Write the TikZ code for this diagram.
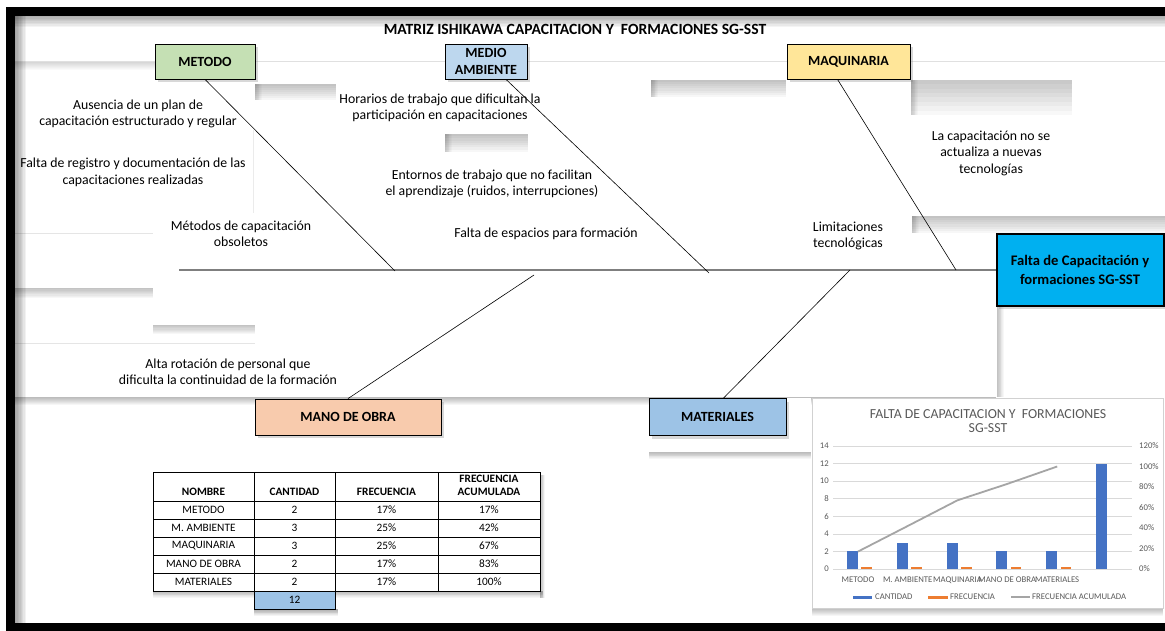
\documentclass[tikz,border=0pt]{standalone}
\usepackage{fontspec}
\setmainfont{Carlito}
\usetikzlibrary{shadows}
\definecolor{cMet}{HTML}{C5E0B4}
\definecolor{cAmb}{HTML}{BDD7EE}
\definecolor{cMaq}{HTML}{FFE699}
\definecolor{cObra}{HTML}{F8CBAD}
\definecolor{cMat}{HTML}{9DC3E6}
\definecolor{cEff}{HTML}{00B0F0}
\definecolor{cBar}{HTML}{4472C4}
\definecolor{cFreq}{HTML}{ED7D31}
\definecolor{cAcc}{HTML}{A5A5A5}
\definecolor{cGrid}{HTML}{D9D9D9}
\definecolor{cTxt}{HTML}{595959}
\definecolor{cSpine}{HTML}{7F7F7F}
% soft shadow darkest at the top edge: x1 y1 x2 y2 opacity-step
\newcommand\softtop[5]{\foreach \k in {1,...,8} \fill[black, opacity=#5] (#1,#2) rectangle (#3,{#2+(#4-#2)*\k/8});}
% soft shadow darkest at the left edge
\newcommand\softleft[5]{\foreach \k in {1,...,8} \fill[black, opacity=#5] (#1,#2) rectangle ({#1+(#3-#1)*\k/8},#4);}
\begin{document}
\begin{tikzpicture}[x=1pt,y=-1pt,
  lbl/.style={font=\fontsize{13.8}{16.5}\selectfont, align=center, inner sep=0pt, text=black},
  catbox/.style={draw=black, line width=0.8pt, font=\bfseries\fontsize{14}{16.5}\selectfont, align=center, inner sep=0pt,
     drop shadow={shadow xshift=2.5pt, shadow yshift=-3pt, opacity=0.3}},
  bone/.style={draw=black, line width=0.6pt},
  tcell/.style={font=\fontsize{11.3}{13}\selectfont, inner sep=0pt, align=center},
  thead/.style={font=\bfseries\fontsize{11.3}{13.5}\selectfont, inner sep=0pt, align=center},
  csm/.style={font=\fontsize{8.7}{10}\selectfont, text=cTxt, inner sep=0pt}
]
\useasboundingbox (0,0) rectangle (1165,631);
\fill[white] (0,0) rectangle (1165,631);

% soft shadows of the sheet's text boxes
\softtop{15}{16}{1165}{27}{0.045}
\draw[black!12] (15,61) -- (1165,61);
\softtop{15}{62}{155}{70}{0.02}
\softtop{255}{84}{336}{100}{0.032}
\softleft{255}{84}{262}{100}{0.025}
\softtop{445}{134}{528}{152}{0.032}
\softleft{445}{134}{452}{152}{0.025}
\softtop{651}{80}{786}{97}{0.032}
\softleft{651}{80}{658}{97}{0.025}
\softtop{911}{80}{1072}{115}{0.028}
\softleft{911}{80}{918}{115}{0.025}
\softtop{912}{216}{1165}{233}{0.032}
\softleft{912}{216}{919}{233}{0.025}
\softtop{15}{288}{153}{298}{0.032}
\softtop{153}{325}{255}{334}{0.032}
\draw[black!10] (15,233) -- (153,233);
\draw[black!10] (15,343) -- (255,343);
\draw[black!8] (253,130) -- (253,213);
\softtop{15}{397}{996}{405}{0.035}
\softleft{997}{306}{1004}{397}{0.03}
\fill[white] (649,398) rectangle (811,452);
\softtop{649}{452}{811}{459}{0.035}
\softleft{15}{16}{26}{623}{0.05}

% black frame
\fill[black] (6,7) rectangle (1165,16);
\fill[black] (6,7) rectangle (15,631);
\fill[black] (6,623) rectangle (1165,631);

% title
\node[font=\bfseries\fontsize{15.6}{17}\selectfont, inner sep=0pt] (title) at (575,29) {MATRIZ ISHIKAWA CAPACITACION Y\ \ FORMACIONES SG-SST};

% category boxes
\node[catbox, fill=cMet, minimum width=100pt, minimum height=35pt] (met) at (205,61.5) {METODO};
\node[catbox, fill=cAmb, minimum width=82pt, minimum height=35pt] (amb) at (486,61.5) {MEDIO\\AMBIENTE};
\node[catbox, fill=cMaq, minimum width=123pt, minimum height=35pt] (maq) at (848.5,61.5) {MAQUINARIA};
\node[catbox, fill=cObra, minimum width=186pt, minimum height=36pt] (obra) at (348,417) {MANO DE OBRA};
\node[catbox, fill=cMat, minimum width=137pt, minimum height=37pt] (mat) at (717.5,417) {MATERIALES};
\node[catbox, fill=cEff, line width=2pt, minimum width=167pt, minimum height=72pt,
      font=\bfseries\fontsize{14.6}{19.5}\selectfont] (eff) at (1080,270) {Falta de Capacitación y\\formaciones SG-SST};

% spine and bones
\coordinate (tail) at (179,270);
\coordinate (jmet) at (395,271);
\coordinate (jamb) at (709,273);
\coordinate (jmaq) at (956,270);
\coordinate (jobra) at (534,275);
\coordinate (jmat) at (850,270);
\draw[cSpine, line width=1.8pt] (tail) -- (eff.west);
\draw[bone] (met.south) -- (jmet);
\draw[bone] ([xshift=20pt]amb.south) -- (jamb);
\draw[bone] ([xshift=-11pt]maq.south) -- (jmaq);
\draw[bone] (obra.north) -- (jobra);
\draw[bone] ([xshift=6pt]mat.north) -- (jmat);

% cause labels
\node[lbl] (c1) at (138,114) {Ausencia de un plan de\\capacitación estructurado y regular};
\node[lbl] (c2) at (133,172.5) {Falta de registro y documentación de las\\capacitaciones realizadas};
\node[lbl] (c3) at (241,234) {Métodos de capacitación\\obsoletos};
\node[lbl] (c4) at (440,108) {Horarios de trabajo que dificultan la\\participación en capacitaciones};
\node[lbl] (c5) at (492,184) {Entornos de trabajo que no facilitan\\el aprendizaje (ruidos, interrupciones)};
\node[lbl] (c6) at (546,234) {Falta de espacios para formación};
\node[lbl] (c7) at (991,153) {La capacitación no se\\actualiza a nuevas\\tecnologías};
\node[lbl] (c8) at (848,236) {Limitaciones\\tecnológicas};
\node[lbl] (c9) at (228,372) {Alta rotación de personal que\\dificulta la continuidad de la formación};

% table
\softtop{153}{591}{543}{598}{0.035}
\softleft{540}{475}{545}{598}{0.035}
\fill[white] (153,472) rectangle (540,591);
\draw[black, line width=0.7pt] (153,472) rectangle (540,591);
\foreach \xx in {254,335,438} \draw[black, line width=0.6pt] (\xx,472) -- (\xx,591);
\foreach \yy in {501,519,537,555,573} \draw[black, line width=0.6pt] (153,\yy) -- (540,\yy);
\softtop{254}{609}{338}{616}{0.045}
\node[draw=black, line width=0.6pt, fill=cMat, minimum width=81pt, minimum height=18pt, tcell] (tot) at (294.5,600) {12};
\node[thead] (h1) at (203.5,492) {NOMBRE};
\node[thead] (h2) at (294.5,492) {CANTIDAD};
\node[thead] (h3) at (386.5,492) {FRECUENCIA};
\node[thead] (h4) at (489,485.5) {FRECUENCIA\\ACUMULADA};
\foreach \n/\a/\b/\c/\d in {0/METODO/2/17/17, 1/M. AMBIENTE/3/25/42, 2/MAQUINARIA/3/25/67, 3/MANO DE OBRA/2/17/83, 4/MATERIALES/2/17/100}{
  \node[tcell] (r\n a) at (203.5,{510+18*\n}) {\a};
  \node[tcell] (r\n b) at (294.5,{510+18*\n}) {\b};
  \node[tcell] (r\n c) at (386.5,{510+18*\n}) {\c\%};
  \node[tcell] (r\n d) at (489,{510+18*\n}) {\d\%};
}

% chart
\softtop{812}{608}{1163}{616}{0.035}
\node[draw=black!18, fill=white, minimum width=351pt, minimum height=210pt, inner sep=0pt] (chart) at (987.5,503) {};
\node[font=\fontsize{13.8}{14.5}\selectfont, text=cTxt, align=center, inner sep=0pt] (ctitle) at (988,421) {FALTA DE CAPACITACION Y\ \ FORMACIONES\\SG-SST};
\foreach \v in {0,2,...,14} {
  \draw[cGrid, line width=0.7pt] (833,{569-\v*8.786}) -- (1132,{569-\v*8.786});
  \node[csm, anchor=east] at (829,{569-\v*8.786}) {\v};
}
\foreach \p in {0,20,...,120} \node[csm, anchor=west] at (1139,{569-\p*1.025}) {\p\%};
\foreach \i/\v/\f in {1/2/0.17,2/3/0.25,3/3/0.25,4/2/0.17,5/2/0.17,6/12/0} {
  \pgfmathsetmacro\cc{833+49.83*(\i-0.5)}
  \fill[cBar] (\cc-11,569) rectangle (\cc,{569-\v*8.786});
  \ifdim \f pt>0pt \fill[cFreq] (\cc+3.5,569) rectangle (\cc+14,{569-max(\f*8.786,1.6)}); \fi
}
\draw[cAcc, line width=1.8pt] (857.9,551.6) -- (907.7,526) -- (957.5,500.3) -- (1007.3,483.9) -- (1057.2,466.5);
\node[csm] (x1) at (858,580) {METODO};
\node[csm] (x2) at (907.7,580) {M. AMBIENTE};
\node[csm] (x3) at (957.5,580) {MAQUINARIA};
\node[csm] (x4) at (1007.3,580) {MANO DE OBRA};
\node[csm] (x5) at (1057.2,580) {MATERIALES};
\fill[cBar] (853,595.5) rectangle (872,598.5);
\node[csm, anchor=west] (l1) at (875,597) {CANTIDAD};
\fill[cFreq] (928,595.5) rectangle (948,598.5);
\node[csm, anchor=west] (l2) at (950,597) {FRECUENCIA};
\draw[cAcc, line width=1.5pt] (1011,597) -- (1030,597);
\node[csm, anchor=west] (l3) at (1032,597) {FRECUENCIA ACUMULADA};
\end{tikzpicture}
\end{document}
